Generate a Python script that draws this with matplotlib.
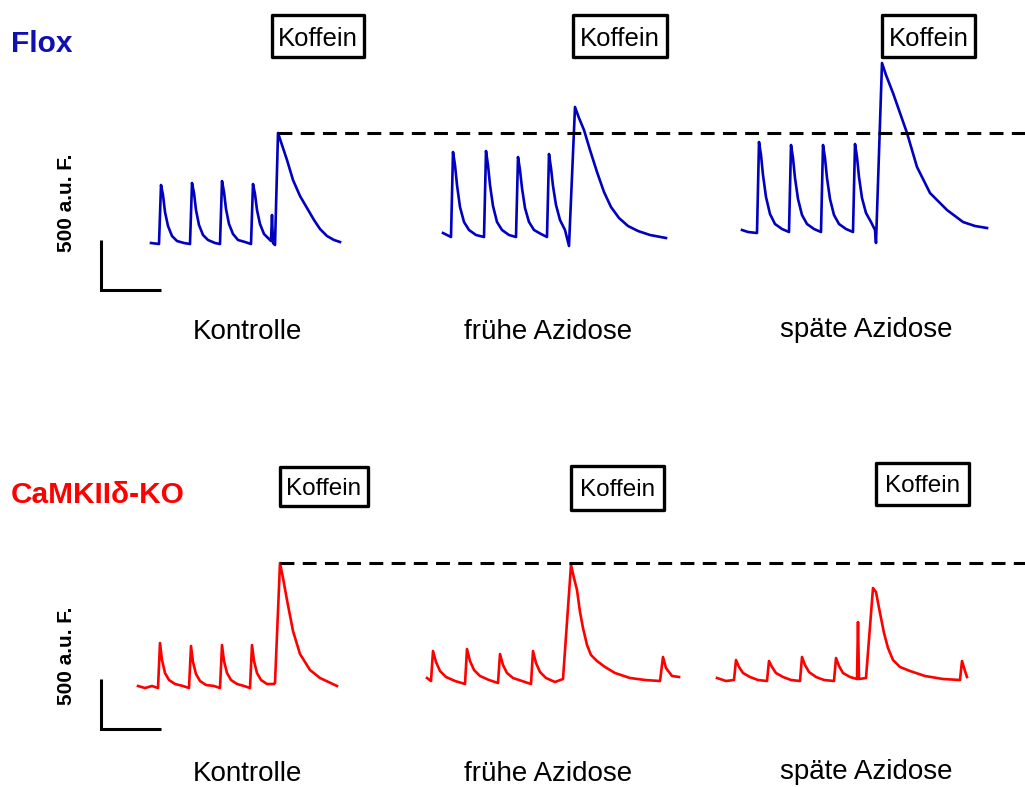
import matplotlib.pyplot as plt
from matplotlib.patches import Rectangle

plt.rcParams['font.family'] = ['Liberation Sans', 'DejaVu Sans']
plt.rcParams['lines.scale_dashes'] = False

# Fluoreszenz-Spuren: Zeit in ms, Fluoreszenz in a.u. (relativ zur Kontroll-Baseline)
flox_ctrl_t = [0, 240, 300, 360, 420, 510, 630, 780, 990,
               1170, 1230, 1290, 1350, 1440, 1560, 1710, 1920,
               2070, 2130, 2190, 2250, 2340, 2460, 2610, 2820,
               3000, 3060, 3120, 3180, 3270, 3390, 3540, 3600,
               3630, 3660, 3720,
               3810, 3930, 4080, 4260, 4470, 4680, 4890, 5070, 5280, 5490, 5670]
flox_ctrl_f = [0, -10, 580, 480, 310, 170, 70, 20, 0,
               -10, 600, 500, 330, 180, 80, 30, 0,
               -10, 620, 510, 340, 190, 90, 30, 10,
               -10, 590, 490, 330, 190, 90, 40, 20,
               280, 0, -20,
               1100, 980, 830, 630, 470, 350, 230, 140, 70, 30, 10]

flox_early_t = [0, 180, 240, 300, 360, 420, 510, 630, 780, 990,
                1230, 1290, 1350, 1410, 1500, 1620, 1770, 1980,
                2190, 2250, 2310, 2370, 2460, 2580, 2730, 2940,
                3120, 3180, 3240, 3300, 3390, 3510, 3660, 3780,
                3960, 4080, 4230, 4410, 4620, 4830, 5040, 5280, 5550, 5850, 6210, 6690]
flox_early_f = [100, 70, 60, 910, 780, 580, 360, 210, 130, 80,
                60, 920, 780, 580, 370, 210, 130, 80,
                60, 860, 730, 550, 350, 210, 130, 90,
                60, 890, 750, 570, 380, 230, 130, -30,
                1360, 1250, 1130, 930, 710, 510, 360, 250, 170, 120, 80, 50]

flox_late_t = [0, 180, 450, 510, 570, 630, 720, 840, 990, 1200,
               1410, 1470, 1530, 1590, 1680, 1800, 1950, 2160,
               2370, 2430, 2490, 2550, 2640, 2760, 2910, 3120,
               3330, 3390, 3450, 3510, 3600, 3720, 3870, 3990, 4020,
               4200, 4320, 4530, 4740, 4950, 5250, 5640, 6150, 6630, 6990, 7350]
flox_late_f = [130, 110, 100, 1010, 880, 680, 460, 290, 190, 140,
               110, 980, 850, 650, 440, 280, 190, 140,
               110, 980, 850, 650, 440, 280, 190, 140,
               110, 990, 860, 660, 450, 300, 210, 130, 0,
               1800, 1680, 1500, 1300, 1100, 760, 500, 330, 210, 170, 150]

ko_ctrl_t = [0, 210, 420, 600, 660, 720, 810, 930, 1110, 1350,
             1530, 1590, 1650, 1740, 1860, 2040, 2280,
             2460, 2520, 2580, 2670, 2790, 2970, 3180,
             3360, 3420, 3480, 3570, 3690, 3870, 4080, 4110,
             4260, 4350, 4470, 4650, 4860, 5160, 5460, 5970]
ko_ctrl_f = [10, -10, 10, -10, 440, 270, 140, 70, 30, 10,
             -10, 410, 250, 130, 60, 20, 10,
             -10, 420, 260, 140, 70, 30, 10,
             -10, 420, 260, 140, 70, 30, 30, 40,
             1240, 1090, 870, 560, 330, 170, 90, 10]

ko_early_t = [0, 120, 180, 270, 390, 570, 840, 1140,
              1200, 1290, 1410, 1590, 1860, 2130,
              2190, 2280, 2400, 2580, 2850, 3120,
              3180, 3270, 3390, 3570, 3840, 4080,
              4320, 4410, 4500, 4590, 4680, 4800, 4920, 5100, 5340, 5640, 6090, 6540, 6990,
              7080, 7170, 7350, 7560]
ko_early_f = [90, 60, 360, 250, 160, 100, 60, 30,
              380, 260, 170, 110, 70, 40,
              330, 220, 140, 90, 60, 30,
              360, 240, 150, 90, 50, 80,
              1220, 1090, 970, 750, 590, 420, 320, 260, 200, 140, 90, 70, 60,
              300, 190, 110, 100]

ko_late_t = [0, 270, 510, 570, 660, 780, 990, 1230, 1500,
             1560, 1650, 1770, 1980, 2220, 2490,
             2550, 2640, 2760, 2970, 3210, 3510,
             3570, 3660, 3780, 3990, 4200,
             4230, 4260, 4470,
             4680, 4770, 4890, 5010, 5130, 5280, 5490, 5790, 6240, 6780, 7290,
             7350, 7440, 7500]
ko_late_f = [90, 60, 70, 270, 200, 140, 100, 70, 60,
             260, 200, 140, 100, 70, 60,
             300, 220, 150, 100, 70, 60,
             290, 210, 140, 100, 80,
             650, 80, 90,
             990, 950, 740, 540, 390, 270, 200, 160, 110, 80, 70,
             260, 160, 100]

conditions = ['Kontrolle', 'frühe Azidose', 'späte Azidose']
groups = ['Flox', 'CaMKIIδ-KO']
scale_label = '500 a.u. F.'
SCALE_AU = 500
SCALE_MS = 1800

# Layout (Pixel des 1025x787-Bildes)
W, H = 1025, 787
MS_PER_PX = 30
AU_PER_PX = 10

fig = plt.figure(figsize=(W / 100, H / 100), dpi=100)


def fx(px):
    return px / W


def fy(py):
    return 1 - py / H


def row_axes(base_py):
    ax = fig.add_axes([0, 0, 1, 1])
    ax.set_xlim(0, W * MS_PER_PX)
    ax.set_ylim((base_py - H) * AU_PER_PX, base_py * AU_PER_PX)
    ax.axis('off')
    ax.patch.set_alpha(0)
    return ax


rows = [
    dict(base=243, color='#0000BE', title_color='#1010B0', title_y=52,
         starts=[151, 443, 742],
         traces=[(flox_ctrl_t, flox_ctrl_f), (flox_early_t, flox_early_f), (flox_late_t, flox_late_f)],
         bar_bottom=290, label_y=[339, 339, 337], scale_text_y=203,
         boxes=[(272, 15, 364, 57), (573, 15, 667, 57), (882, 15, 975, 57)], box_fs=18.5),
    dict(base=687, color='#FF0000', title_color='#FF0000', title_y=503,
         starts=[138, 427, 717],
         traces=[(ko_ctrl_t, ko_ctrl_f), (ko_early_t, ko_early_f), (ko_late_t, ko_late_f)],
         bar_bottom=729, label_y=[781, 781, 779], scale_text_y=656,
         boxes=[(280, 467, 368, 506), (571, 466, 664, 510), (876, 463, 969, 505)], box_fs=17.5),
]

label_x = [247, 548, 866]

for i, row in enumerate(rows):
    ax = row_axes(row['base'])
    for (t, f), start in zip(row['traces'], row['starts']):
        off = start * MS_PER_PX
        ax.plot([v + off for v in t], f, color=row['color'], lw=1.9,
                solid_joinstyle='round')

    # gestrichelte Linie auf Höhe des Koffein-Peaks der Kontrolle
    t0, f0 = row['traces'][0]
    peak = max(f0)
    t_peak = t0[f0.index(peak)] + row['starts'][0] * MS_PER_PX
    ax.plot([t_peak, W * MS_PER_PX], [peak, peak], color='black', lw=2.2,
            dashes=(10, 6))

    # Skalenbalken
    bx = 101 * MS_PER_PX
    by = (row['base'] - row['bar_bottom']) * AU_PER_PX
    ax.plot([bx, bx, bx + SCALE_MS], [by + SCALE_AU, by, by], color='black',
            lw=2.2, solid_joinstyle='miter', solid_capstyle='butt')

    fig.text(fx(67), fy(row['scale_text_y']), scale_label, rotation=90,
             fontsize=15, fontweight='bold', ha='center', va='center')

    fig.text(fx(11), fy(row['title_y']), groups[i], fontsize=21.5,
             fontweight='bold', color=row['title_color'], ha='left',
             va='baseline')

    for name, lx, ly in zip(conditions, label_x, row['label_y']):
        fig.text(fx(lx), fy(ly), name, fontsize=20, ha='center', va='baseline')

    for (x0, y0, x1, y1) in row['boxes']:
        fig.patches.append(Rectangle((fx(x0), fy(y1)), fx(x1) - fx(x0), fy(y0) - fy(y1),
                                     transform=fig.transFigure, fill=False,
                                     edgecolor='black', lw=2.4, joinstyle='round'))
        fig.text(fx((x0 + x1) / 2), fy((y0 + y1) / 2), 'Koffein',
                 fontsize=row['box_fs'], ha='center', va='center_baseline')

fig.savefig('out.png', dpi=100)
